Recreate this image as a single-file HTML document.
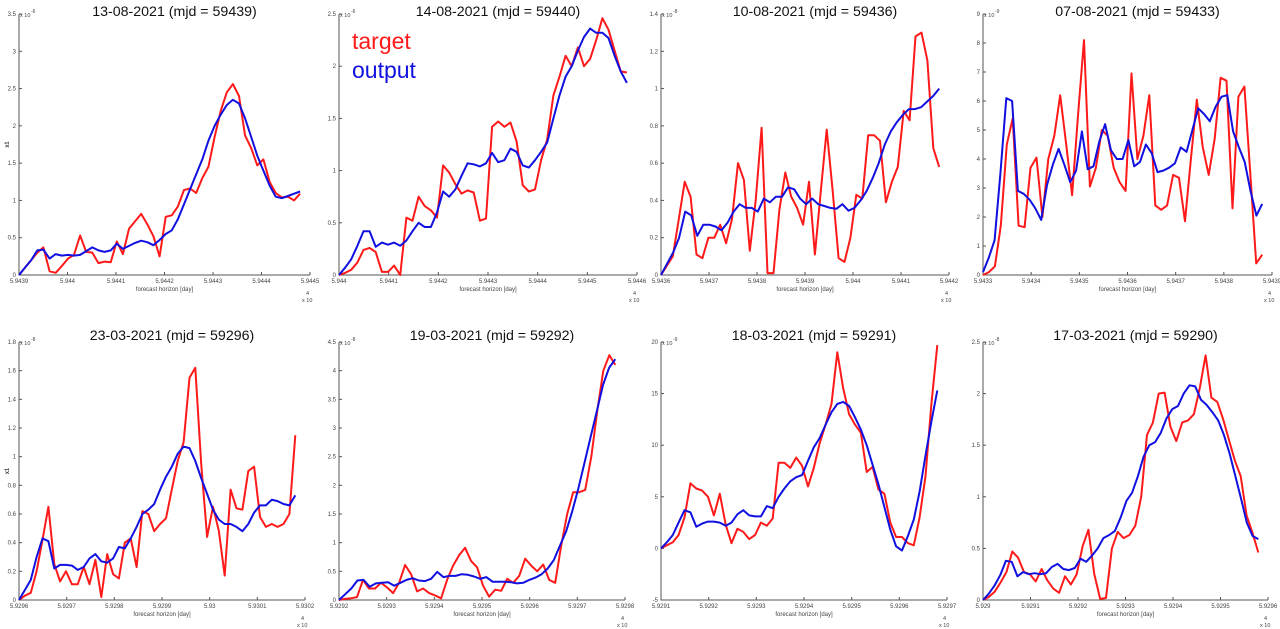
<!DOCTYPE html>
<html><head><meta charset="utf-8"><style>
body{margin:0;background:#fff;width:1280px;height:629px;overflow:hidden}
svg{display:block;font-family:"Liberation Sans",sans-serif}
</style></head><body>
<svg id="fig" width="1280" height="629"></svg>
<script>
const titles=["13-08-2021 (mjd = 59439)","14-08-2021 (mjd = 59440)","10-08-2021 (mjd = 59436)","07-08-2021 (mjd = 59433)","23-03-2021 (mjd = 59296)","19-03-2021 (mjd = 59292)","18-03-2021 (mjd = 59291)","17-03-2021 (mjd = 59290)"];
const xStart=[5.9439,5.944,5.9436,5.9433,5.9296,5.9292,5.9291,5.929];
const yMin=[0,0,0,0,0,0,-5,0];
const yMax=[3.5,2.5,1.4,9,1.8,4.5,20,2.5];
const yStep=[0.5,0.5,0.2,1,0.2,0.5,5,0.5];
const yExp=["-6","-6","-8","-9","-8","-8","-9","-8"];
const red1=[0,0.1,0.2,0.3,0.37,0.05,0.03,0.12,0.22,0.27,0.53,0.31,0.3,0.16,0.18,0.17,0.45,0.28,0.62,0.72,0.82,0.68,0.52,0.25,0.78,0.8,0.92,1.14,1.16,1.1,1.3,1.45,1.85,2.2,2.45,2.56,2.4,1.87,1.7,1.47,1.55,1.25,1.1,1.04,1.05,1.0,1.09];
const blue1=[0,0.1,0.2,0.33,0.34,0.22,0.28,0.26,0.27,0.26,0.27,0.32,0.37,0.33,0.31,0.33,0.42,0.35,0.39,0.43,0.46,0.44,0.4,0.47,0.55,0.6,0.75,0.95,1.15,1.35,1.55,1.8,2.0,2.15,2.28,2.35,2.3,2.1,1.85,1.6,1.4,1.2,1.05,1.03,1.06,1.09,1.12];
const red2=[0,0.02,0.05,0.12,0.24,0.26,0.22,0.03,0.03,0.09,0,0.55,0.52,0.75,0.66,0.62,0.55,1.05,0.98,0.87,0.78,0.81,0.79,0.52,0.54,1.42,1.47,1.42,1.46,1.28,0.86,0.8,0.82,1.1,1.3,1.72,1.9,2.1,2.0,2.18,2.0,2.07,2.25,2.46,2.35,2.15,1.95,1.94];
const blue2=[0,0.07,0.15,0.28,0.42,0.42,0.27,0.31,0.29,0.31,0.28,0.33,0.42,0.5,0.46,0.46,0.6,0.8,0.75,0.82,0.95,1.07,1.06,1.04,1.07,1.17,1.08,1.1,1.21,1.18,1.05,1.03,1.1,1.18,1.27,1.5,1.72,1.9,2.0,2.15,2.28,2.36,2.32,2.32,2.27,2.1,1.95,1.84];
const red3=[0,0.05,0.1,0.3,0.5,0.42,0.11,0.09,0.2,0.2,0.27,0.17,0.3,0.6,0.51,0.13,0.4,0.79,0.01,0.01,0.35,0.55,0.42,0.36,0.27,0.5,0.11,0.45,0.78,0.45,0.09,0.07,0.2,0.43,0.41,0.75,0.75,0.72,0.39,0.5,0.58,0.88,0.83,1.28,1.3,1.15,0.68,0.58];
const blue3=[0,0.06,0.12,0.2,0.34,0.32,0.21,0.27,0.27,0.26,0.24,0.28,0.34,0.38,0.36,0.36,0.34,0.41,0.39,0.42,0.42,0.47,0.46,0.41,0.38,0.41,0.38,0.37,0.36,0.355,0.38,0.345,0.36,0.4,0.45,0.52,0.6,0.7,0.77,0.82,0.86,0.89,0.89,0.9,0.93,0.96,1.0];
const red4=[0,0.1,0.3,1.7,4.5,5.4,1.7,1.65,3.7,4.05,2.0,4.0,4.8,6.2,4.5,2.75,5.5,8.1,3.05,3.7,5.0,4.8,3.7,3.2,2.9,6.95,4.0,4.8,6.2,2.4,2.25,2.4,3.45,3.35,1.85,4.0,6.05,4.4,3.45,4.7,6.8,6.7,2.3,6.15,6.5,3.5,0.4,0.7];
const blue4=[0.1,0.6,1.2,3.5,6.1,6.0,2.9,2.8,2.6,2.3,1.9,3.1,3.8,4.35,3.8,3.2,3.6,4.95,3.65,3.75,4.6,5.2,4.3,4.0,4.0,4.65,3.75,3.9,4.5,4.2,3.55,3.6,3.7,3.85,4.4,4.25,5.0,5.75,5.55,5.3,5.8,6.15,6.2,4.95,4.4,3.9,2.9,2.05,2.45];
const red5=[0,0.03,0.05,0.2,0.42,0.65,0.25,0.13,0.2,0.11,0.11,0.23,0.11,0.28,0.02,0.32,0.18,0.15,0.4,0.43,0.23,0.62,0.6,0.48,0.53,0.57,0.77,0.97,1.1,1.55,1.62,0.95,0.44,0.65,0.48,0.17,0.77,0.64,0.63,0.9,0.93,0.58,0.51,0.53,0.51,0.53,0.6,1.15];
const blue5=[0,0.07,0.14,0.3,0.43,0.41,0.22,0.245,0.245,0.24,0.21,0.23,0.29,0.32,0.27,0.26,0.29,0.37,0.36,0.43,0.51,0.6,0.63,0.67,0.77,0.86,0.93,1.02,1.07,1.06,0.97,0.85,0.74,0.63,0.56,0.53,0.53,0.51,0.48,0.53,0.61,0.66,0.66,0.7,0.69,0.67,0.66,0.73];
const red6=[0,0.02,0.03,0.05,0.35,0.2,0.2,0.3,0.22,0.12,0.3,0.61,0.45,0.15,0.2,0.12,0.08,0.03,0.35,0.6,0.78,0.91,0.68,0.57,0.25,0.06,0.18,0.16,0.37,0.3,0.42,0.72,0.6,0.5,0.62,0.35,0.3,0.95,1.5,1.88,1.88,1.92,2.5,3.3,4.0,4.27,4.1];
const blue6=[0,0.1,0.2,0.34,0.35,0.23,0.29,0.3,0.31,0.25,0.3,0.35,0.38,0.34,0.33,0.37,0.49,0.4,0.42,0.42,0.45,0.44,0.41,0.37,0.4,0.32,0.32,0.32,0.31,0.29,0.3,0.35,0.39,0.45,0.55,0.7,0.95,1.2,1.55,1.95,2.4,2.85,3.3,3.75,4.05,4.2];
const red7=[0,0.3,0.6,1.3,3.0,6.3,5.8,5.6,5.0,3.2,5.3,2.3,0.5,1.9,1.6,0.9,1.3,2.5,2.2,2.9,8.3,8.3,7.8,8.8,8.0,6.0,7.8,10.2,12,14,19,15.5,13,12,11.2,7.4,7.9,5.7,5.3,2.5,1.1,1.1,0.5,0.3,3,7,14,19.7];
const blue7=[0,0.6,1.3,2.5,3.7,3.5,2.1,2.4,2.6,2.6,2.5,2.2,2.5,3.3,3.7,3.2,3.1,3.1,4.1,3.9,5.0,5.8,6.5,6.9,7.1,8.5,9.8,10.7,12,13.2,14,14.2,13.8,12.7,11.5,10,8.1,6.2,4,1.8,0.2,-0.2,1.2,2.8,5.5,9,12.3,15.3];
const red8=[0,0.03,0.08,0.17,0.27,0.47,0.41,0.27,0.25,0.18,0.3,0.19,0.11,0.07,0.23,0.15,0.25,0.52,0.68,0.25,0.01,0.02,0.5,0.66,0.6,0.63,0.72,1.0,1.6,1.72,2.0,2.01,1.68,1.54,1.72,1.74,1.8,2.05,2.37,1.96,1.92,1.75,1.55,1.35,1.2,0.82,0.65,0.46];
const blue8=[0,0.06,0.14,0.24,0.38,0.37,0.23,0.27,0.25,0.26,0.25,0.26,0.32,0.35,0.3,0.29,0.31,0.4,0.37,0.43,0.5,0.6,0.63,0.67,0.8,0.96,1.04,1.2,1.39,1.5,1.53,1.62,1.76,1.85,1.88,2.0,2.08,2.07,1.94,1.89,1.82,1.74,1.6,1.42,1.2,0.98,0.75,0.62,0.59];
const reds=[red1,red2,red3,red4,red5,red6,red7,red8];
const blues=[blue1,blue2,blue3,blue4,blue5,blue6,blue7,blue8];

const NS="http://www.w3.org/2000/svg";
const svg=document.getElementById('fig');
function mk(tag,attrs,parent,text){const e=document.createElementNS(NS,tag);for(const k in attrs)e.setAttribute(k,attrs[k]);if(text!==undefined)e.textContent=text;parent.appendChild(e);return e;}
const lefts=[19,339,661,983,19,339,661,983];
const rights=[310,637,949,1272,305,625,947,1268];
for(let p=0;p<8;p++){
  const row=p<4?0:1;
  const top=row?342:14, bot=row?600:275;
  const L=lefts[p], R=rights[p];
  const g=mk('g',{},svg);
  
  
  const xs=f=>L+f*(R-L);
  const ys=v=>bot-(v-yMin[p])/(yMax[p]-yMin[p])*(bot-top);
  const t=mk('text',{x:(L+R)/2+10,y:row?340:16,'text-anchor':'middle','font-size':'14.2',fill:'#111'},g,titles[p]);
  
  
  const ax=mk('path',{d:`M${L} ${top}V${bot}H${R}`,stroke:'#555',fill:'none','stroke-width':'1'},g);
  
  
  const nY=Math.round((yMax[p]-yMin[p])/yStep[p]);
  for(let i=0;i<=nY;i++){const v=yMin[p]+i*yStep[p];const y=ys(v);
    mk('line',{x1:L,x2:L+3,y1:y,y2:y,stroke:'#555'},g);
    const lb=mk('text',{x:L-3,y:y+2,'text-anchor':'end','font-size':'6',fill:'#444'},g,String(+v.toFixed(2)));
    
    }
  mk('text',{x:L+1,y:top+3,'font-size':'5.5',fill:'#444'},g,'x 10');
  mk('text',{x:L+12,y:top-1,'font-size':'5',fill:'#444'},g,yExp[p]);
  for(let i=0;i<=6;i++){const x=xs(i/6);
    mk('line',{x1:x,x2:x,y1:bot,y2:bot-3,stroke:'#555'},g);
    const lb=mk('text',{x:x,y:bot+8,'text-anchor':'middle','font-size':'6',fill:'#444'},g,String(+(xStart[p]+i*0.0001).toFixed(4)));
    
    }
  mk('text',{x:R-4,y:bot+20,'font-size':'5.5',fill:'#444'},g,'4');
  mk('text',{x:R-8,y:bot+27,'font-size':'5.5',fill:'#444'},g,'x 10');
  const xl=mk('text',{x:(L+R)/2,y:bot+16,'text-anchor':'middle','font-size':'6',fill:'#444'},g,'forecast horizon [day]');
  
  
  const yl=mk('text',{x:0,y:0,transform:`translate(9,${(top+bot)/2}) rotate(-90)`,'text-anchor':'middle','font-size':'6',fill:'#444'},g,'x1');
  
  
  [[reds[p],'#ff1a1a','target-line'],[blues[p],'#1010e0','output-line']].forEach(([arr,col,nm])=>{
    const n=arr.length;
    const d=arr.map((v,i)=>(i?'L':'M')+xs(i/(n-1)*0.966).toFixed(1)+' '+ys(v).toFixed(1)).join('');
    const pl=mk('path',{d:d,stroke:col,fill:'none','stroke-width':'2','stroke-linejoin':'round'},g);
    
    
  });
}
const lg1=mk('text',{x:352,y:49,'font-size':'23',fill:'#ff1a1a'},svg,'target');


const lg2=mk('text',{x:352,y:78,'font-size':'23',fill:'#1010e0'},svg,'output');


</script>
</body></html>
